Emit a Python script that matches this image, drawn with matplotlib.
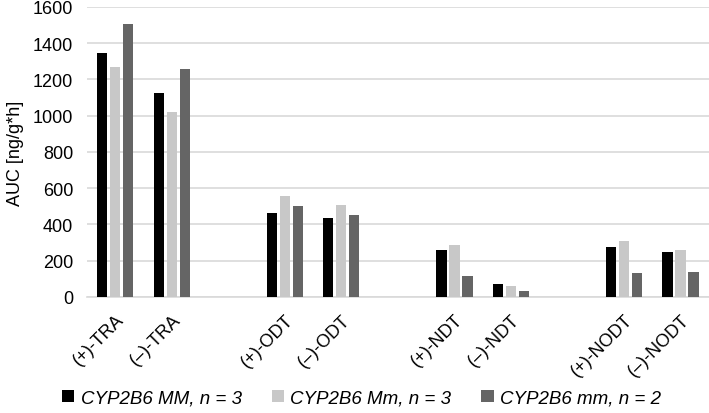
import numpy as np
import matplotlib.pyplot as plt

plt.rcParams['font.family'] = ['Liberation Sans', 'DejaVu Sans']

categories = ['(+)-TRA', '(–)-TRA', '(+)-ODT', '(–)-ODT',
              '(+)-NDT', '(–)-NDT', '(+)-NODT', '(–)-NODT']
slots = [0, 1, 3, 4, 6, 7, 9, 10]  # empty slots between groups

mm_big = [1348, 1125, 463, 435, 259, 70, 276, 246]
mm_het = [1271, 1022, 555, 510, 289, 61, 307, 259]
mm_low = [1506, 1258, 502, 455, 116, 31, 132, 140]

series = [
    ('CYP2B6 MM, n = 3', mm_big, '#000000'),
    ('CYP2B6 Mm, n = 3', mm_het, '#c8c8c8'),
    ('CYP2B6 mm, n = 2', mm_low, '#656565'),
]

fig = plt.figure(figsize=(7.09, 4.14), dpi=100)
ax = fig.add_axes([0.1227, 0.2802, 0.877, 0.7005])

x = np.array(slots, dtype=float)
w = 0.18
step = 0.23
for i, (lab, vals, col) in enumerate(series):
    ax.bar(x + (i - 1) * step, vals, width=w, color=col, label=lab, zorder=3)

ax.set_xlim(-0.5, 10.5)
ax.set_ylim(0, 1600)
ax.set_yticks(range(0, 1601, 200))
ax.yaxis.grid(True, color='#d9d9d9', linewidth=1.2, zorder=0)
ax.set_axisbelow(True)
for s in ['top', 'right', 'left']:
    ax.spines[s].set_visible(False)
ax.spines['bottom'].set_color('#d9d9d9')
ax.spines['bottom'].set_linewidth(1.2)
ax.tick_params(axis='both', length=0, labelsize=13, colors='#000000')
ax.tick_params(axis='y', pad=10)
ax.set_xticks(x)
ax.set_xticklabels(categories, rotation=45, ha='right', rotation_mode='anchor')
ax.tick_params(axis='x', pad=10)
ax.set_ylabel('AUC [ng/g*h]', fontsize=13, labelpad=6)

leg = fig.legend(loc='lower center', bbox_to_anchor=(0.51, -0.025), ncol=3,
                 frameon=False, handlelength=0.65, handleheight=0.65,
                 handletextpad=0.35, columnspacing=1.6,
                 prop={'style': 'italic', 'size': 13.5})

fig.savefig('out.png', dpi=100)
